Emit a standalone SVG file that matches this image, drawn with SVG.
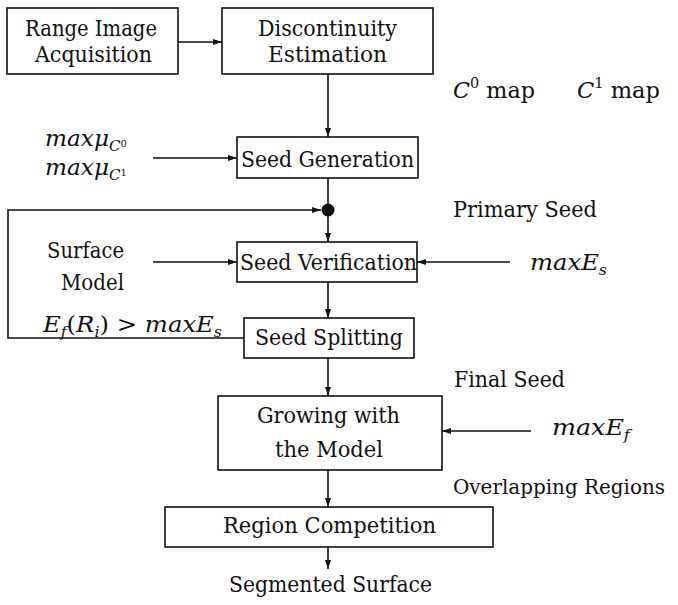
<svg xmlns="http://www.w3.org/2000/svg" width="678" height="605" viewBox="0 0 678 605">
<defs>
<style>
.box{fill:#fff;stroke:#111;stroke-width:1.6}
.ln{fill:none;stroke:#111;stroke-width:1.6}
text{font-family:'DejaVu Serif','Liberation Serif',serif;font-size:23px;fill:#111}
.m{font-style:italic}
.s{font-size:15px}
.r{font-style:normal}
</style>
<marker id="ah" markerUnits="userSpaceOnUse" markerWidth="9" markerHeight="7" refX="9" refY="3.5" orient="auto">
<path d="M0,0.5 L9,3.5 L0,6.5 z" fill="#111"/>
</marker>
</defs>
<rect width="678" height="605" fill="#fff"/>

<g id="connectors">
<line class="ln" x1="178" y1="42" x2="222" y2="42" marker-end="url(#ah)"/>
<line class="ln" x1="328" y1="74" x2="328" y2="137" marker-end="url(#ah)"/>
<line class="ln" x1="153" y1="158" x2="237" y2="158" marker-end="url(#ah)"/>
<line class="ln" x1="328" y1="178" x2="328" y2="242" marker-end="url(#ah)"/>
<polyline class="ln" points="244,338 8,338 8,210 321,210" marker-end="url(#ah)"/>
<circle cx="328" cy="210" r="6.5" fill="#111"/>
<line class="ln" x1="153" y1="262" x2="237" y2="262" marker-end="url(#ah)"/>
<line class="ln" x1="510" y1="262" x2="417" y2="262" marker-end="url(#ah)"/>
<line class="ln" x1="328" y1="282" x2="328" y2="318" marker-end="url(#ah)"/>
<line class="ln" x1="328" y1="358" x2="328" y2="396" marker-end="url(#ah)"/>
<line class="ln" x1="531" y1="431" x2="442" y2="431" marker-end="url(#ah)"/>
<line class="ln" x1="328" y1="470" x2="328" y2="507" marker-end="url(#ah)"/>
<line class="ln" x1="328" y1="547" x2="328" y2="569" marker-end="url(#ah)"/>
</g>

<g id="range-image-acquisition">
<rect class="box" x="7" y="8" width="171" height="66"/>
<text x="25" y="36" textLength="132" lengthAdjust="spacingAndGlyphs">Range Image</text>
<text x="35" y="62" textLength="117" lengthAdjust="spacingAndGlyphs">Acquisition</text>
</g>

<g id="discontinuity-estimation">
<rect class="box" x="222" y="8" width="211" height="66"/>
<text x="258" y="36" textLength="139" lengthAdjust="spacingAndGlyphs">Discontinuity</text>
<text x="268" y="62" textLength="119" lengthAdjust="spacingAndGlyphs">Estimation</text>
</g>

<g id="seed-generation">
<rect class="box" x="237" y="137" width="181" height="41"/>
<text x="241" y="167" textLength="173" lengthAdjust="spacingAndGlyphs">Seed Generation</text>
</g>

<g id="seed-verification">
<rect class="box" x="237" y="242" width="180" height="40"/>
<text x="240" y="270" textLength="177" lengthAdjust="spacingAndGlyphs">Seed Verification</text>
</g>

<g id="seed-splitting">
<rect class="box" x="244" y="318" width="170" height="40"/>
<text x="255" y="345" textLength="148" lengthAdjust="spacingAndGlyphs">Seed Splitting</text>
</g>

<g id="growing-with-the-model">
<rect class="box" x="218" y="396" width="224" height="74"/>
<text x="257" y="423" textLength="143" lengthAdjust="spacingAndGlyphs">Growing with</text>
<text x="275" y="457" textLength="108" lengthAdjust="spacingAndGlyphs">the Model</text>
</g>

<g id="region-competition">
<rect class="box" x="165" y="507" width="328" height="40"/>
<text x="223" y="533" textLength="213" lengthAdjust="spacingAndGlyphs">Region Competition</text>
</g>

<g id="labels">
<text class="m" x="453" y="98" textLength="82" lengthAdjust="spacingAndGlyphs">C<tspan class="s r" dy="-10">0</tspan><tspan class="r" dy="10"> map</tspan></text>
<text class="m" x="577" y="98" textLength="83" lengthAdjust="spacingAndGlyphs">C<tspan class="s r" dy="-10">1</tspan><tspan class="r" dy="10"> map</tspan></text>
<text class="m" x="45" y="146" textLength="82" lengthAdjust="spacingAndGlyphs">maxμ<tspan class="s" dy="5">C</tspan><tspan class="r" dy="-4" style="font-size:10px">0</tspan></text>
<text class="m" x="45" y="175" textLength="82" lengthAdjust="spacingAndGlyphs">maxμ<tspan class="s" dy="5">C</tspan><tspan class="r" dy="-4" style="font-size:10px">1</tspan></text>
<text x="453" y="217" textLength="144" lengthAdjust="spacingAndGlyphs">Primary Seed</text>
<text x="47" y="258" textLength="77" lengthAdjust="spacingAndGlyphs">Surface</text>
<text x="61" y="290" textLength="63" lengthAdjust="spacingAndGlyphs">Model</text>
<text class="m" x="530" y="270" textLength="77" lengthAdjust="spacingAndGlyphs">maxE<tspan class="s" dy="5">s</tspan></text>
<text class="m" x="43" y="332" textLength="179" lengthAdjust="spacingAndGlyphs">E<tspan class="s" dy="5">f</tspan><tspan class="r" dy="-5">(</tspan>R<tspan class="s" dy="5">i</tspan><tspan class="r" dy="-5">) &gt; </tspan>maxE<tspan class="s" dy="5">s</tspan></text>
<text x="454" y="387" textLength="111" lengthAdjust="spacingAndGlyphs">Final Seed</text>
<text class="m" x="552" y="435" textLength="78" lengthAdjust="spacingAndGlyphs">maxE<tspan class="s" dy="5">f</tspan></text>
<text x="453" y="494" style="font-size:20px" textLength="212" lengthAdjust="spacingAndGlyphs">Overlapping Regions</text>
<text x="229" y="592" textLength="203" lengthAdjust="spacingAndGlyphs">Segmented Surface</text>
</g>
</svg>
